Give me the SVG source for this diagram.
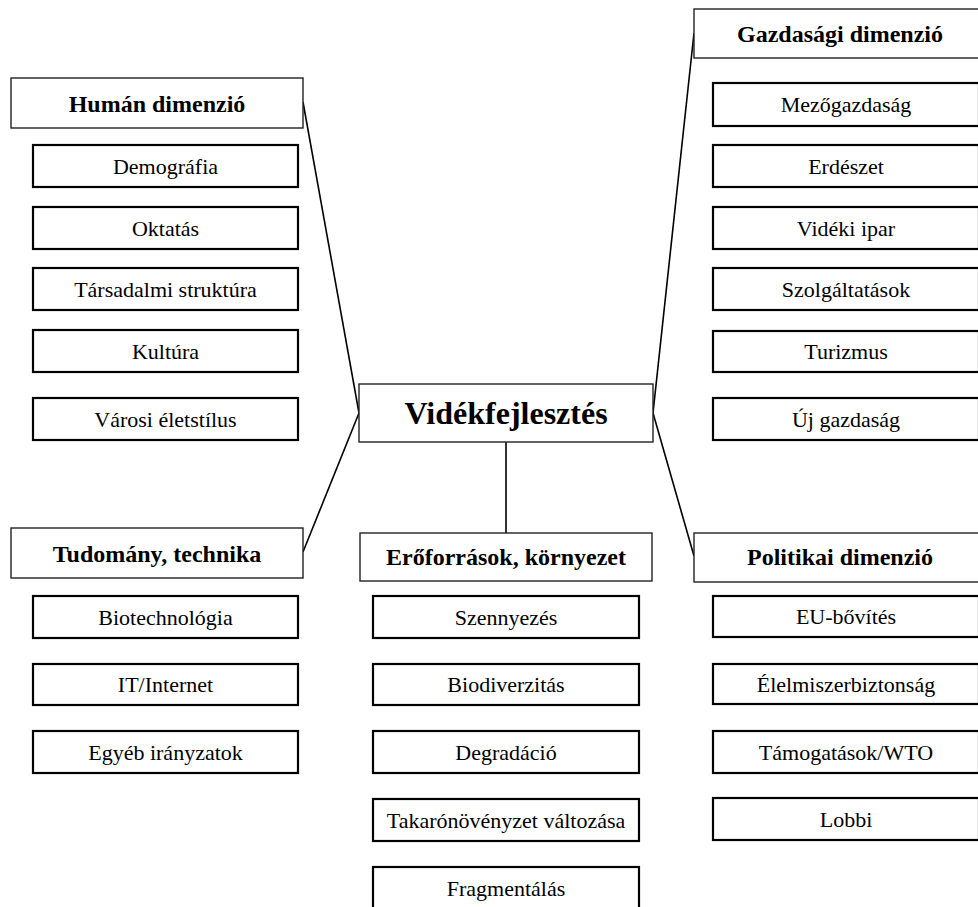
<svg xmlns="http://www.w3.org/2000/svg" width="978" height="907" viewBox="0 0 978 907">
<style>
rect{fill:#fff;stroke:#000}
.h rect,.c rect{stroke-width:1.4;stroke:#222}
.s rect{stroke-width:2.2}
text{font-family:"Liberation Serif","Times New Roman",serif;fill:#000;text-anchor:middle}
.h text{font-size:24px;font-weight:bold}
.c text{font-size:32px;font-weight:bold}
.s text{font-size:22px}
#connectors line{stroke:#000;stroke-width:1.6;fill:none}
</style>
<rect x="0" y="0" width="978" height="907" style="fill:#fff;stroke:none"/>
<g id="connectors">
<line x1="303" y1="102" x2="359" y2="413"/>
<line x1="359" y1="413" x2="303" y2="552"/>
<line x1="694" y1="33" x2="653" y2="413"/>
<line x1="653" y1="413" x2="694" y2="556"/>
<line x1="506" y1="442" x2="506" y2="533"/>
</g>
<g id="center" class="c"><rect x="359" y="384" width="294" height="58"/><text x="506" y="424">Vidékfejlesztés</text></g>
<g id="human" class="h"><rect x="11" y="78" width="292" height="50"/><text x="157" y="112">Humán dimenzió</text></g>
<g id="gazdasagi" class="h"><rect x="694" y="9" width="292" height="49"/><text x="840" y="42">Gazdasági dimenzió</text></g>
<g id="tudomany" class="h"><rect x="11" y="528" width="292" height="50"/><text x="157" y="562">Tudomány, technika</text></g>
<g id="eroforrasok" class="h"><rect x="360" y="533" width="292" height="48"/><text x="506" y="565">Erőforrások, környezet</text></g>
<g id="politikai" class="h"><rect x="694" y="533" width="292" height="49"/><text x="840" y="565">Politikai dimenzió</text></g>

<g id="demografia" class="s"><rect x="33" y="145" width="265" height="42"/><text x="165.5" y="174">Demográfia</text></g>
<g id="oktatas" class="s"><rect x="33" y="207" width="265" height="42"/><text x="165.5" y="236">Oktatás</text></g>
<g id="tarsadalmi" class="s"><rect x="33" y="268" width="265" height="42"/><text x="165.5" y="297">Társadalmi struktúra</text></g>
<g id="kultura" class="s"><rect x="33" y="330" width="265" height="42"/><text x="165.5" y="359">Kultúra</text></g>
<g id="varosi" class="s"><rect x="33" y="398" width="265" height="42"/><text x="165.5" y="427">Városi életstílus</text></g>

<g id="mezogazdasag" class="s"><rect x="713" y="83" width="266" height="43"/><text x="846" y="112">Mezőgazdaság</text></g>
<g id="erdeszet" class="s"><rect x="713" y="145" width="266" height="42"/><text x="846" y="174">Erdészet</text></g>
<g id="videki-ipar" class="s"><rect x="713" y="207" width="266" height="42"/><text x="846" y="236">Vidéki ipar</text></g>
<g id="szolgaltatasok" class="s"><rect x="713" y="268" width="266" height="42"/><text x="846" y="297">Szolgáltatások</text></g>
<g id="turizmus" class="s"><rect x="713" y="331" width="266" height="41"/><text x="846" y="359">Turizmus</text></g>
<g id="uj-gazdasag" class="s"><rect x="713" y="398" width="266" height="42"/><text x="846" y="427">Új gazdaság</text></g>

<g id="biotechnologia" class="s"><rect x="33" y="596" width="265" height="42"/><text x="165.5" y="625">Biotechnológia</text></g>
<g id="it-internet" class="s"><rect x="33" y="664" width="265" height="41"/><text x="165.5" y="692">IT/Internet</text></g>
<g id="egyeb" class="s"><rect x="33" y="731" width="265" height="42"/><text x="165.5" y="760">Egyéb irányzatok</text></g>

<g id="szennyezes" class="s"><rect x="373" y="596" width="266" height="42"/><text x="506" y="625">Szennyezés</text></g>
<g id="biodiverzitas" class="s"><rect x="373" y="664" width="266" height="41"/><text x="506" y="692">Biodiverzitás</text></g>
<g id="degradacio" class="s"><rect x="373" y="731" width="266" height="42"/><text x="506" y="760">Degradáció</text></g>
<g id="takaronoveny" class="s"><rect x="373" y="799" width="266" height="42"/><text x="506" y="828">Takarónövényzet változása</text></g>
<g id="fragmentalas" class="s"><rect x="373" y="867" width="266" height="42"/><text x="506" y="896">Fragmentálás</text></g>

<g id="eu-bovites" class="s"><rect x="713" y="596" width="266" height="41"/><text x="846" y="624">EU-bővítés</text></g>
<g id="elelmiszer" class="s"><rect x="713" y="664" width="266" height="40"/><text x="846" y="692">Élelmiszerbiztonság</text></g>
<g id="tamogatasok" class="s"><rect x="713" y="731" width="266" height="42"/><text x="846" y="760">Támogatások/WTO</text></g>
<g id="lobbi" class="s"><rect x="713" y="798" width="266" height="42"/><text x="846" y="827">Lobbi</text></g>
</svg>
